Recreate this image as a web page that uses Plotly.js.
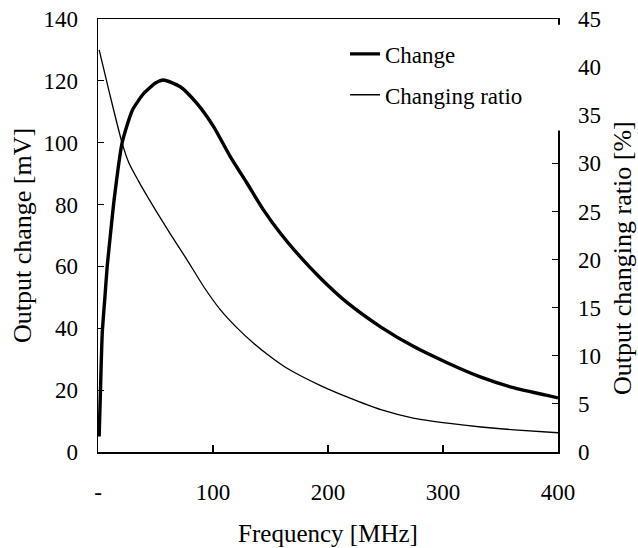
<!DOCTYPE html>
<html><head><meta charset="utf-8">
<script src="https://cdn.plot.ly/plotly-3.0.1.min.js"></script>
<style>html,body{margin:0;padding:0;background:#fff}</style>
</head><body><div id="chart" style="width:638px;height:548px"></div>
<script>
// Output change [mV] vs frequency [MHz]
const freqChange = [1, 2, 3.7, 6, 8, 11, 14, 21, 30, 40, 50, 57, 71.5, 86, 100.5, 115, 129.6, 144, 158.6, 173.2, 193.5, 217, 246, 275, 304, 333, 362, 400];
const outputChange = [5, 18, 38.5, 50, 60, 71, 81.5, 100, 110.6, 116, 119.3, 120.3, 118.1, 112.7, 105.2, 95.5, 86.9, 78.2, 70.7, 64.2, 56.2, 48.2, 40.4, 34, 28.8, 24.2, 20.7, 17.5];
// Output changing ratio [%] vs frequency [MHz]
const freqRatio = [1, 10, 21, 27, 35, 48.2, 62.7, 77.3, 91.8, 106.3, 120.9, 135.3, 150, 164.4, 193.5, 217, 246, 275, 304, 333, 362, 400];
const changingRatio = [41.8, 37.3, 32.1, 30.0, 28.2, 25.5, 22.7, 20.0, 17.2, 14.8, 12.9, 11.3, 9.9, 8.7, 6.9, 5.7, 4.4, 3.5, 3.0, 2.6, 2.3, 2.0];
const seriesNames = ['Change', 'Changing ratio'];
const xTickVals = [0, 100, 200, 300, 400];
const xTickText = ['-', '100', '200', '300', '400'];
const yLeftTicks = [0, 20, 40, 60, 80, 100, 120, 140];
const yRightTicks = [0, 5, 10, 15, 20, 25, 30, 35, 40, 45];
const titles = {x: 'Frequency [MHz]', yLeft: 'Output change [mV]', yRight: 'Output changing ratio [%]'};

const FONT = "'Liberation Serif', Tinos, 'Times New Roman', Times, 'DejaVu Serif', 'Noto Serif', serif";
const traces = [
  {x: freqChange, y: outputChange, name: seriesNames[0], type: 'scatter', mode: 'lines',
   line: {color: '#000', width: 3.4, shape: 'spline', smoothing: 0.6}, legendgroup: 'a', yaxis: 'y'},
  {x: freqRatio, y: changingRatio, name: seriesNames[1], type: 'scatter', mode: 'lines',
   line: {color: '#000', width: 1.3, shape: 'spline', smoothing: 0.6}, legendgroup: 'b', yaxis: 'y2'}
];
const axisCommon = {showgrid: false, zeroline: false, showline: true, linecolor: '#000', linewidth: 1.5,
  ticks: 'inside', tickcolor: '#000', tickwidth: 1.2, tickfont: {family: FONT, size: 23, color: '#000'}};
const layout = {
  width: 638, height: 548,
  margin: {l: 98, r: 80, t: 19, b: 96},
  paper_bgcolor: '#fff', plot_bgcolor: '#fff',
  font: {family: FONT, size: 23, color: '#000'},
  showlegend: true,
  legend: {x: 0.537, y: 0.969, xanchor: 'left', yanchor: 'top', bgcolor: 'rgba(0,0,0,0)',
    font: {family: FONT, size: 23, color: '#000'}, traceorder: 'grouped', tracegroupgap: 8},
  xaxis: Object.assign({}, axisCommon, {range: [0, 400], tickvals: xTickVals, ticktext: xTickText,
    ticklen: 7, mirror: true, ticklabelstandoff: 19,
    title: {text: titles.x, font: {family: FONT, size: 25, color: '#000'}, standoff: 20}}),
  yaxis: Object.assign({}, axisCommon, {range: [0, 140], tickvals: yLeftTicks, ticklen: 6,
    ticklabelstandoff: 14,
    title: {text: titles.yLeft, font: {family: FONT, size: 26, color: '#000'}, standoff: 4}}),
  yaxis2: Object.assign({}, axisCommon, {range: [0, 45], tickvals: yRightTicks, ticklen: 6,
    overlaying: 'y', side: 'right', ticklabelstandoff: 14}),
  annotations: [
    {text: titles.yRight, xref: 'paper', yref: 'paper', x: 1.139, y: 0.448, xanchor: 'center', yanchor: 'middle',
     textangle: -90, showarrow: false, font: {family: FONT, size: 26, color: '#000'}}
  ],
  shapes: [
    {type: 'rect', xref: 'paper', yref: 'y2', x0: 0.98, x1: 1.03, y0: 33.4, y1: 44.4,
     fillcolor: '#fff', line: {width: 0}, layer: 'above'}
  ]
};
Plotly.newPlot('chart', traces, layout, {displayModeBar: false, staticPlot: true});
</script></body></html>
